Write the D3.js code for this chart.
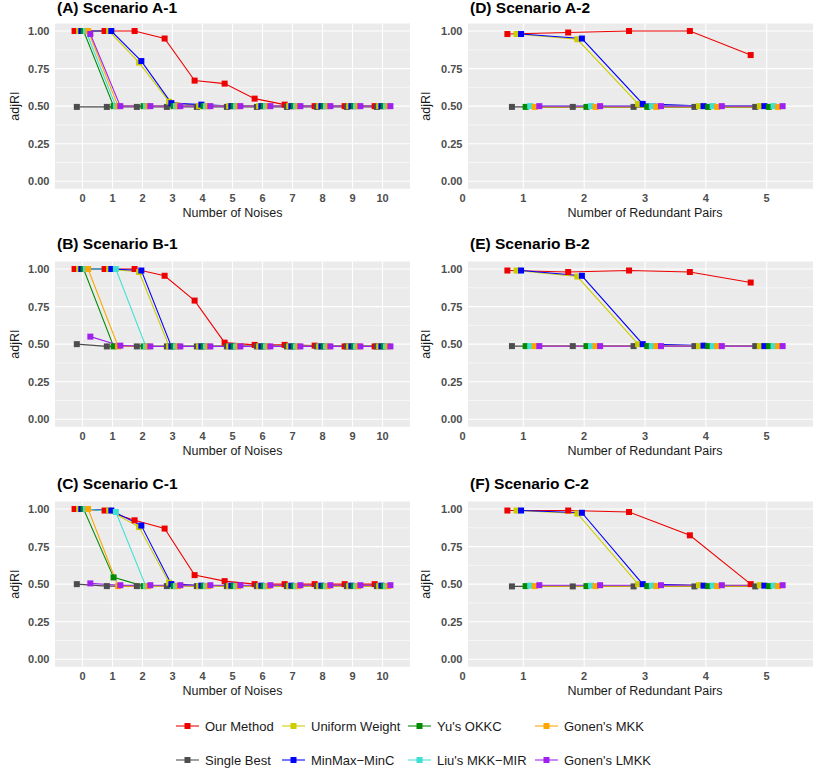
<!DOCTYPE html>
<html>
<head>
<meta charset="utf-8">
<script src="https://cdn.jsdelivr.net/npm/d3@7"></script>
<style>
  body { margin: 0; background: #fff; }
  svg { display: block; font-family: "Liberation Sans", Arial, Helvetica, sans-serif; }
</style>
</head>
<body>
<svg id="chart" width="813" height="771"></svg>
<script>
// series in dodge / legend-column order
const methods = ['Our Method', 'Single Best', 'Uniform Weight', 'MinMax\u2212MinC',
                 "Yu's OKKC", "Liu's MKK\u2212MIR", "Gonen's MKK", "Gonen's LMKK"];
const colors = ['#EE0000', '#4D4D4D', '#CDCD00', '#0000FF',
                '#008B00', '#40E0D0', '#FFA500', '#A020F0'];

const noises = [0, 1, 2, 3, 4, 5, 6, 7, 8, 9, 10];
const pairs = [1, 2, 3, 4, 5];
const yTicks = [0, 0.25, 0.5, 0.75, 1];

// one row per method, same order as `methods`
const scenarioA1 = [
  [1.00, 1.00, 1.00, 0.95, 0.67, 0.65, 0.55, 0.51, 0.50, 0.50, 0.50],
  [0.495, 0.495, 0.495, 0.495, 0.495, 0.495, 0.495, 0.495, 0.495, 0.495, 0.495],
  [1.00, 1.00, 0.79, 0.53, 0.50, 0.50, 0.50, 0.50, 0.50, 0.50, 0.50],
  [1.00, 1.00, 0.80, 0.52, 0.51, 0.50, 0.50, 0.50, 0.50, 0.50, 0.50],
  [1.00, 0.50, 0.50, 0.50, 0.50, 0.50, 0.50, 0.50, 0.50, 0.50, 0.50],
  [1.00, 0.50, 0.50, 0.50, 0.50, 0.50, 0.50, 0.50, 0.50, 0.50, 0.50],
  [1.00, 0.50, 0.50, 0.50, 0.50, 0.50, 0.50, 0.50, 0.50, 0.50, 0.50],
  [0.98, 0.50, 0.50, 0.50, 0.50, 0.50, 0.50, 0.50, 0.50, 0.50, 0.50]
];
const scenarioB1 = [
  [1.00, 1.00, 1.00, 0.955, 0.79, 0.51, 0.495, 0.495, 0.49, 0.485, 0.485],
  [0.50, 0.485, 0.485, 0.485, 0.485, 0.485, 0.485, 0.485, 0.485, 0.485, 0.485],
  [1.00, 1.00, 0.98, 0.485, 0.485, 0.485, 0.485, 0.485, 0.485, 0.485, 0.485],
  [1.00, 1.00, 0.99, 0.485, 0.485, 0.485, 0.485, 0.485, 0.485, 0.485, 0.485],
  [1.00, 0.485, 0.485, 0.485, 0.485, 0.485, 0.485, 0.485, 0.485, 0.485, 0.485],
  [1.00, 1.00, 0.485, 0.485, 0.485, 0.485, 0.485, 0.485, 0.485, 0.485, 0.485],
  [1.00, 0.485, 0.485, 0.485, 0.485, 0.485, 0.485, 0.485, 0.485, 0.485, 0.485],
  [0.55, 0.49, 0.485, 0.485, 0.485, 0.485, 0.485, 0.485, 0.485, 0.485, 0.485]
];
const scenarioC1 = [
  [1.00, 0.99, 0.925, 0.87, 0.56, 0.52, 0.50, 0.50, 0.50, 0.50, 0.50],
  [0.50, 0.487, 0.487, 0.487, 0.487, 0.487, 0.487, 0.487, 0.487, 0.487, 0.487],
  [1.00, 0.99, 0.88, 0.51, 0.487, 0.487, 0.487, 0.487, 0.487, 0.487, 0.487],
  [1.00, 0.99, 0.89, 0.50, 0.49, 0.49, 0.49, 0.49, 0.49, 0.49, 0.49],
  [1.00, 0.545, 0.487, 0.487, 0.487, 0.487, 0.487, 0.487, 0.487, 0.487, 0.487],
  [1.00, 0.98, 0.487, 0.487, 0.487, 0.487, 0.487, 0.487, 0.487, 0.487, 0.487],
  [1.00, 0.487, 0.487, 0.487, 0.487, 0.487, 0.487, 0.487, 0.487, 0.487, 0.487],
  [0.505, 0.493, 0.493, 0.493, 0.493, 0.493, 0.493, 0.493, 0.493, 0.493, 0.493]
];
const scenarioA2 = [
  [0.98, 0.99, 1.00, 1.00, 0.84],
  [0.495, 0.495, 0.495, 0.495, 0.495],
  [0.98, 0.945, 0.515, 0.50, 0.50],
  [0.98, 0.95, 0.515, 0.50, 0.50],
  [0.495, 0.495, 0.495, 0.495, 0.495],
  [0.50, 0.50, 0.50, 0.50, 0.50],
  [0.495, 0.495, 0.495, 0.495, 0.495],
  [0.50, 0.50, 0.50, 0.50, 0.50]
];
const scenarioB2 = [
  [0.99, 0.98, 0.99, 0.98, 0.91],
  [0.487, 0.487, 0.487, 0.487, 0.487],
  [0.99, 0.95, 0.50, 0.487, 0.487],
  [0.99, 0.955, 0.50, 0.49, 0.487],
  [0.487, 0.487, 0.487, 0.487, 0.487],
  [0.487, 0.487, 0.487, 0.487, 0.487],
  [0.487, 0.487, 0.487, 0.487, 0.487],
  [0.487, 0.487, 0.487, 0.487, 0.487]
];
const scenarioC2 = [
  [0.99, 0.99, 0.98, 0.825, 0.50],
  [0.485, 0.485, 0.485, 0.485, 0.485],
  [0.99, 0.97, 0.50, 0.493, 0.493],
  [0.99, 0.975, 0.50, 0.49, 0.49],
  [0.487, 0.487, 0.487, 0.487, 0.487],
  [0.49, 0.49, 0.49, 0.49, 0.49],
  [0.487, 0.487, 0.487, 0.487, 0.487],
  [0.493, 0.493, 0.493, 0.493, 0.493]
];

const svg = d3.select('#chart');
const dodge = 0.6;
const panelH = 165.3;
const rowTops = [23.5, 261.5, 501.5];

const columns = [
  { left: 55, right: 410, domain: [-0.915, 10.915], xs: noises, ticks: noises,
    xlab: 'Number of Noises', yLabX: 14, tickRight: 49.5 },
  { left: 468, right: 822, domain: [0.09, 5.91], xs: pairs, ticks: [0, 1, 2, 3, 4, 5],
    xlab: 'Number of Redundant Pairs', yLabX: 425, tickRight: 462.5 }
];

const panels = [
  { title: '(A) Scenario A-1', col: 0, row: 0, data: scenarioA1 },
  { title: '(B) Scenario B-1', col: 0, row: 1, data: scenarioB1 },
  { title: '(C) Scenario C-1', col: 0, row: 2, data: scenarioC1 },
  { title: '(D) Scenario A-2', col: 1, row: 0, data: scenarioA2 },
  { title: '(E) Scenario B-2', col: 1, row: 1, data: scenarioB2 },
  { title: '(F) Scenario C-2', col: 1, row: 2, data: scenarioC2 }
];

function drawPanel (p, idx) {
    const c = columns[p.col];
    const top = rowTops[p.row];
    const x = d3.scaleLinear().domain(c.domain).range([c.left, c.right]);
    const y = d3.scaleLinear().domain([-0.05, 1.05]).range([top + panelH, top]);
    const g = svg.append('g');

    g.append('clipPath').attr('id', 'clip' + idx)
        .append('rect').attr('x', c.left).attr('y', top)
        .attr('width', c.right - c.left).attr('height', panelH);

    g.append('rect')
        .attr('x', c.left).attr('y', top)
        .attr('width', c.right - c.left).attr('height', panelH)
        .attr('fill', '#EBEBEB');

    const grid = g.append('g').attr('clip-path', `url(#clip${idx})`);
    // minor y grid
    const minor = [0.125, 0.375, 0.625, 0.875];
    grid.selectAll('.minor').data(minor).enter().append('line')
        .attr('x1', c.left).attr('x2', c.right)
        .attr('y1', d => y(d)).attr('y2', d => y(d))
        .attr('stroke', '#fff').attr('stroke-width', 0.55);
    grid.selectAll('.majorY').data(yTicks).enter().append('line')
        .attr('x1', c.left).attr('x2', c.right)
        .attr('y1', d => y(d)).attr('y2', d => y(d))
        .attr('stroke', '#fff').attr('stroke-width', 1.1);
    grid.selectAll('.majorX').data(c.ticks).enter().append('line')
        .attr('x1', d => x(d)).attr('x2', d => x(d))
        .attr('y1', top).attr('y2', top + panelH)
        .attr('stroke', '#fff').attr('stroke-width', 1.1);

    const offset = i => (i - (methods.length - 1) / 2) * dodge / methods.length;
    const series = p.data.map((vals, i) => ({
        i,
        pts: vals.map((v, k) => [x(c.xs[k] + offset(i)), y(v)])
    }));

    const marks = g.append('g').attr('clip-path', `url(#clip${idx})`);
    marks.selectAll('.ln').data(series).enter().append('path')
        .attr('d', d => d3.line()(d.pts))
        .attr('fill', 'none')
        .attr('stroke', d => colors[d.i])
        .attr('stroke-width', 1.07);

    const sq = 6;
    series.forEach(s => {
        marks.selectAll(null).data(s.pts).enter().append('rect')
            .attr('x', d => d[0] - sq / 2).attr('y', d => d[1] - sq / 2)
            .attr('width', sq).attr('height', sq)
            .attr('fill', colors[s.i]);
    });

    // axis tick labels
    g.selectAll('.yt').data(yTicks).enter().append('text')
        .attr('x', c.tickRight).attr('y', d => y(d) + 4)
        .attr('text-anchor', 'end')
        .attr('font-size', 11).attr('font-weight', 'bold').attr('fill', '#4D4D4D')
        .text(d => d.toFixed(2));
    g.selectAll('.xt').data(c.ticks).enter().append('text')
        .attr('x', d => x(d)).attr('y', top + panelH + 13.5)
        .attr('text-anchor', 'middle')
        .attr('font-size', 11).attr('font-weight', 'bold').attr('fill', '#4D4D4D')
        .text(d => d);

    g.append('text')
        .attr('x', (c.left + c.right) / 2).attr('y', top + panelH + 28.5)
        .attr('text-anchor', 'middle').attr('font-size', 12.5).attr('fill', '#1a1a1a')
        .text(c.xlab);
    g.append('text')
        .attr('transform', `translate(${c.yLabX + 4.5},${top + panelH / 2}) rotate(-90)`)
        .attr('text-anchor', 'middle').attr('font-size', 12.5).attr('fill', '#1a1a1a')
        .text('adjRI');
    g.append('text')
        .attr('x', c.left + 2).attr('y', Math.max(top - 13, 12.5))
        .attr('font-size', 15.5).attr('font-weight', 'bold').attr('fill', '#000')
        .text(p.title);
}

panels.forEach(drawPanel);

// legend, filled by column like ggplot's nrow = 2
const legendCols = [176, 282, 408, 535];
const legendRows = [726, 760];
const legend = svg.append('g');
methods.forEach((name, i) => {
    const kx = legendCols[Math.floor(i / 2)];
    const ky = legendRows[i % 2];
    legend.append('line')
        .attr('x1', kx).attr('x2', kx + 23).attr('y1', ky).attr('y2', ky)
        .attr('stroke', colors[i]).attr('stroke-width', 1.07);
    legend.append('rect')
        .attr('x', kx + 11.5 - 3).attr('y', ky - 3).attr('width', 6).attr('height', 6)
        .attr('fill', colors[i]);
    legend.append('text')
        .attr('x', kx + 29).attr('y', ky + 4.6)
        .attr('font-size', 13).attr('fill', '#1a1a1a')
        .text(name);
});
</script>
</body>
</html>
